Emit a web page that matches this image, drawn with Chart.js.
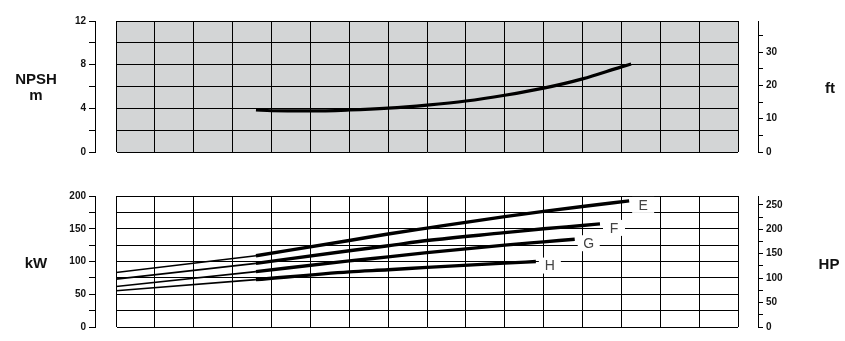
<!DOCTYPE html>
<html>
<head>
<meta charset="utf-8">
<script src="https://cdn.jsdelivr.net/npm/chart.js@4.4.1/dist/chart.umd.min.js"></script>
<style>
  body { margin: 0; background: #fff; }
  #wrap { position: relative; width: 845px; height: 341px; overflow: hidden; font-family: 'Liberation Sans', Arial, sans-serif; }
  canvas { position: absolute; left: 0; }
  .ttl { position: absolute; font-weight: bold; font-size: 15px; line-height: 16px; text-align: center; color: #111; }
</style>
</head>
<body>
<div id="wrap">
  <canvas id="npsh" width="845" height="175" style="top:0"></canvas>
  <canvas id="power" width="845" height="166" style="top:175px"></canvas>
  <div class="ttl" style="left:10px;top:71px;width:52px">NPSH<br>m</div>
  <div class="ttl" style="left:815px;top:80px;width:30px">ft</div>
  <div class="ttl" style="left:10px;top:255px;width:52px">kW</div>
  <div class="ttl" style="left:809px;top:256px;width:40px">HP</div>
</div>
<script>
'use strict';
// flow axis is unlabelled: 16 grid columns, values given in column units
const flowMin = 0;
const flowMax = 16;

// NPSH (m)
const npshFlow = [3.6, 4, 5, 6, 7, 8, 9, 10, 11, 12, 13, 13.25];
const npshM = [3.85, 3.78, 3.76, 3.85, 4.02, 4.3, 4.67, 5.2, 5.85, 6.7, 7.8, 8.06];

// power curves (kW); first segment (to index 1) is the thin extrapolated part
const curveNames = ['E', 'F', 'G', 'H'];
const powerE_flow = [0, 3.6, 6, 7, 8, 10, 11, 12, 13.2];
const powerE_kw = [83.2, 108.8, 132, 142, 151, 168.5, 176.5, 184, 192.5];
const powerF_flow = [0, 3.6, 6, 7, 8, 10, 11, 12, 12.45];
const powerF_kw = [73.1, 97.2, 116.5, 124, 132, 144, 150, 155, 157.4];
const powerG_flow = [0, 3.6, 6, 7, 8, 10, 11, 11.8];
const powerG_kw = [61.9, 84.5, 101, 107, 113.5, 125, 130, 134];
const powerH_flow = [0, 3.6, 6, 7, 8, 10, 10.8];
const powerH_kw = [55.3, 72.3, 84.2, 87.3, 91, 97.5, 99.9];

const npshTicks = { min: 0, max: 12, step: 2, labelEvery: 4 };
const ftTicks = { min: 0, max: 12 * 3.28084, step: 5, labelEvery: 10 };
const kwTicks = { min: 0, max: 200, step: 25, labelEvery: 50 };
const hpTicks = { min: 0, max: 200 / 0.7457, step: 25, labelEvery: 50 };

Chart.defaults.font.family = "'Liberation Sans', Arial, sans-serif";

const pts = (xs, ys) => xs.map((x, i) => ({ x: x, y: ys[i] }));

const plotBg = {
  id: 'plotBg',
  beforeDraw(chart, args, opts) {
    if (!opts.color) return;
    const a = chart.chartArea, c = chart.ctx;
    c.save();
    c.fillStyle = opts.color;
    c.fillRect(a.left, a.top, a.right - a.left, a.bottom - a.top);
    c.restore();
  }
};

const curveTags = {
  id: 'curveTags',
  afterDatasetsDraw(chart) {
    const c = chart.ctx;
    chart.data.datasets.forEach((ds, i) => {
      if (!ds.tag) return;
      const meta = chart.getDatasetMeta(i);
      const last = meta.data[meta.data.length - 1];
      const x = last.x + 14, y = last.y + 4;
      c.save();
      c.fillStyle = '#fff';
      c.fillRect(x - 11, y - 8, 22, 16);
      c.fillStyle = '#444';
      c.font = '14px "Liberation Sans", Arial, sans-serif';
      c.textAlign = 'center';
      c.textBaseline = 'middle';
      c.fillText(ds.tag, x, y + 1);
      c.restore();
    });
  }
};

function sideAxis(t, position, width, onArea) {
  return {
    type: 'linear',
    position: position,
    weight: 2,
    min: t.min,
    max: t.max,
    afterFit: s => { s.width = width; },
    ticks: {
      stepSize: t.step,
      includeBounds: false,
      autoSkip: false,
      padding: 3,
      color: '#111',
      font: { size: 10, weight: 'bold' },
      callback: v => (v % t.labelEvery === 0 ? v : '')
    },
    grid: { color: '#000', lineWidth: 1, tickLength: position === 'left' ? 6 : 5, drawOnChartArea: onArea },
    border: { display: true, color: '#000', width: 1 }
  };
}

function padAxis(position, width) {
  return {
    type: 'linear',
    position: position,
    weight: 1,
    min: 0,
    max: 1,
    afterFit: s => { s.width = width; },
    ticks: { display: false },
    grid: { display: false },
    border: { display: false }
  };
}

function baseScales(leftT, rightT) {
  return {
    x: {
      type: 'linear',
      min: flowMin,
      max: flowMax,
      afterFit: s => { s.height = 0; },
      ticks: { display: false, stepSize: 1 },
      grid: { color: '#000', lineWidth: 1, drawTicks: false },
      border: { display: false }
    },
    y: sideAxis(leftT, 'left', 95, true),
    padL: padAxis('left', 21),
    padR: padAxis('right', 20),
    y2: sideAxis(rightT, 'right', 87, false)
  };
}

const commonOpts = {
  responsive: false,
  animation: false,
  plugins: { legend: { display: false }, tooltip: { enabled: false } },
  elements: { point: { radius: 0 } }
};

new Chart(document.getElementById('npsh').getContext('2d'), {
  type: 'line',
  data: {
    datasets: [{
      data: pts(npshFlow, npshM),
      borderColor: '#000',
      borderWidth: 3.2,
      cubicInterpolationMode: 'monotone'
    }]
  },
  options: Object.assign({}, commonOpts, {
    layout: { padding: { top: 21, bottom: 23, left: 0, right: 0 } },
    scales: baseScales(npshTicks, ftTicks),
    plugins: Object.assign({}, commonOpts.plugins, { plotBg: { color: '#d3d5d6' } })
  }),
  plugins: [plotBg]
});

const powerSets = [];
[[powerE_flow, powerE_kw], [powerF_flow, powerF_kw], [powerG_flow, powerG_kw], [powerH_flow, powerH_kw]].forEach((c, i) => {
  const all = pts(c[0], c[1]);
  powerSets.push({
    data: all.slice(0, 2),
    borderColor: '#000',
    borderWidth: 1.6
  });
  powerSets.push({
    data: all.slice(1),
    tag: curveNames[i],
    borderColor: '#000',
    borderWidth: 3.4,
    cubicInterpolationMode: 'monotone'
  });
});

new Chart(document.getElementById('power').getContext('2d'), {
  type: 'line',
  data: { datasets: powerSets },
  options: Object.assign({}, commonOpts, {
    layout: { padding: { top: 21, bottom: 14, left: 0, right: 0 } },
    scales: baseScales(kwTicks, hpTicks),
    plugins: Object.assign({}, commonOpts.plugins, { plotBg: { color: '' } })
  }),
  plugins: [plotBg, curveTags]
});
</script>
</body>
</html>
